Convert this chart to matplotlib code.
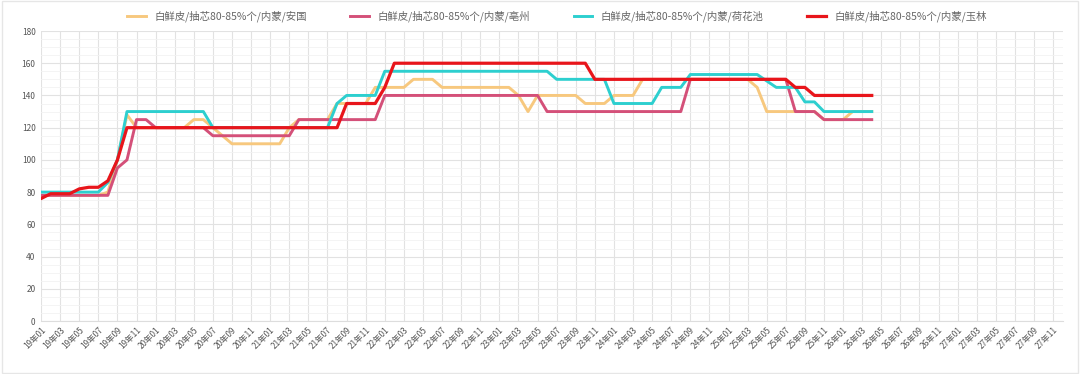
import matplotlib
matplotlib.use("Agg")
import matplotlib.pyplot as plt
from matplotlib.patches import Rectangle
from matplotlib.ticker import MultipleLocator

plt.rcParams['font.family'] = ['Noto Sans CJK SC', 'DejaVu Sans']

# monthly categories 19年01 .. 27年12
months = [f"{y:02d}年{m:02d}" for y in range(19, 28) for m in range(1, 13)]

series_names = [
    "白鲜皮/抽芯80-85%个/内蒙/安国",
    "白鲜皮/抽芯80-85%个/内蒙/亳州",
    "白鲜皮/抽芯80-85%个/内蒙/荷花池",
    "白鲜皮/抽芯80-85%个/内蒙/玉林",
]

anguo = [78, 78, 78, 78, 78, 78, 78, 80, 100, 128,
         120, 120, 120, 120, 120, 120, 125, 125, 120, 115,
         110, 110, 110, 110, 110, 110, 120, 125, 125, 125,
         125, 135, 135, 135, 135, 145, 145, 145, 145, 150,
         150, 150, 145, 145, 145, 145, 145, 145, 145, 145,
         140, 130, 140, 140, 140, 140, 140, 135, 135, 135,
         140, 140, 140, 150, 150, 150, 150, 150, 150, 150,
         150, 150, 150, 150, 150, 145, 130, 130, 130, 130,
         130, 130, 125, 125, 125, 130, 130, 130]

bozhou = [78, 78, 78, 78, 78, 78, 78, 78, 95, 100,
          125, 125, 120, 120, 120, 120, 120, 120, 115, 115,
          115, 115, 115, 115, 115, 115, 115, 125, 125, 125,
          125, 125, 125, 125, 125, 125, 140, 140, 140, 140,
          140, 140, 140, 140, 140, 140, 140, 140, 140, 140,
          140, 140, 140, 130, 130, 130, 130, 130, 130, 130,
          130, 130, 130, 130, 130, 130, 130, 130, 150, 150,
          150, 150, 150, 150, 150, 150, 150, 150, 150, 130,
          130, 130, 125, 125, 125, 125, 125, 125]

hehuachi = [80, 80, 80, 80, 80, 80, 80, 86, 100, 130,
            130, 130, 130, 130, 130, 130, 130, 130, 120, 120,
            120, 120, 120, 120, 120, 120, 120, 120, 120, 120,
            120, 135, 140, 140, 140, 140, 155, 155, 155, 155,
            155, 155, 155, 155, 155, 155, 155, 155, 155, 155,
            155, 155, 155, 155, 150, 150, 150, 150, 150, 150,
            135, 135, 135, 135, 135, 145, 145, 145, 153, 153,
            153, 153, 153, 153, 153, 153, 149, 145, 145, 145,
            136, 136, 130, 130, 130, 130, 130, 130]

yulin = [76, 79, 79, 79, 82, 83, 83, 87, 100, 120,
         120, 120, 120, 120, 120, 120, 120, 120, 120, 120,
         120, 120, 120, 120, 120, 120, 120, 120, 120, 120,
         120, 120, 135, 135, 135, 135, 145, 160, 160, 160,
         160, 160, 160, 160, 160, 160, 160, 160, 160, 160,
         160, 160, 160, 160, 160, 160, 160, 160, 150, 150,
         150, 150, 150, 150, 150, 150, 150, 150, 150, 150,
         150, 150, 150, 150, 150, 150, 150, 150, 150, 145,
         145, 140, 140, 140, 140, 140, 140, 140]

colors = ["#F7C87E", "#D45079", "#2DCFCF", "#E8151B"]
widths = [2.1, 2.1, 2.1, 2.3]

fig = plt.figure(figsize=(10.8, 3.74), dpi=100)
ax = fig.add_axes([0.038, 0.1417, 0.946, 0.7754])

for name, vals, c, lw in zip(series_names, [anguo, bozhou, hehuachi, yulin], colors, widths):
    ax.plot(range(len(vals)), vals, color=c, lw=lw, label=name, solid_joinstyle="round")

ax.set_xlim(0, len(months) - 1)
ax.set_ylim(0, 180)
ax.yaxis.set_major_locator(MultipleLocator(20))
ax.yaxis.set_minor_locator(MultipleLocator(5))
xt = list(range(0, len(months), 2))
ax.set_xticks(xt)
ax.set_xticklabels([months[i] for i in xt], rotation=45, ha="right", rotation_mode="anchor")

ax.grid(which="major", color="#e2e2e2", lw=0.8)
ax.grid(which="minor", axis="y", color="#f2f2f2", lw=0.6)
ax.set_axisbelow(True)
for s in ["top", "right", "left"]:
    ax.spines[s].set_visible(False)
ax.spines["bottom"].set_color("#dddddd")
ax.tick_params(axis="both", which="both", length=0, labelsize=6, colors="#555555", pad=4)
ax.tick_params(axis="x", pad=3)

ax.legend(loc="center", bbox_to_anchor=(0.505, 1.05), ncol=4, frameon=False,
          fontsize=7.5, handlelength=1.8, columnspacing=4.2, labelcolor="#666666")

fig.patches.append(Rectangle((0.002, 0.004), 0.996, 0.992, transform=fig.transFigure,
                             fill=False, ec="#e6e6e6", lw=1.0))

fig.savefig("out.png", dpi=100)
